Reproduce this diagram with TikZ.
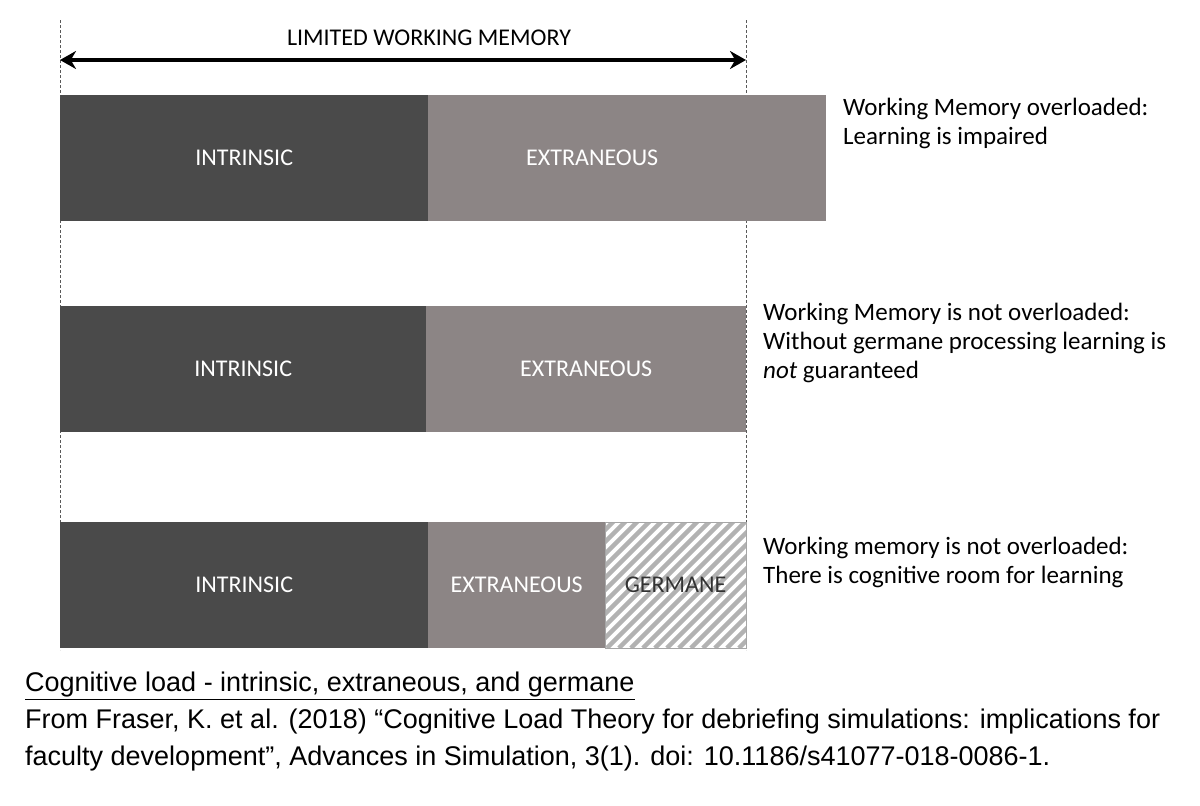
\documentclass[tikz,border=0pt]{standalone}
\usepackage{fontspec}
\setmainfont{Carlito}
\newfontfamily\capfont{Liberation Sans}
\usetikzlibrary{arrows.meta}
\definecolor{intr}{HTML}{4A4A4A}
\definecolor{extr}{HTML}{8C8585}
\begin{document}
\begin{tikzpicture}[x=1pt,y=-1pt,
  bar/.style={draw=none,minimum height=126pt,inner sep=0pt,anchor=north west,text=white,font=\fontsize{24}{28}\selectfont},
  side/.style={anchor=north west,align=left,inner sep=0pt,font=\fontsize{25}{29}\selectfont},
  captxt/.style={anchor=north west,inner sep=0pt,font=\capfont\fontsize{27}{37}\selectfont,align=left}]
\useasboundingbox (0,0) rectangle (1200,806);
\fill[white] (0,0) rectangle (1200,806);
\coordinate (dl1) at (60,20); \coordinate (dl2) at (60,650);
\coordinate (dr1) at (746,20); \coordinate (dr2) at (746,650);
\draw[densely dashed,gray!70!black,line width=0.8pt] (dl1)--(dl2);
\draw[densely dashed,gray!70!black,line width=0.8pt] (dr1)--(dr2);
\coordinate (a1) at (60,60); \coordinate (a2) at (746,60);
\draw[line width=3.5pt,{Stealth[length=16pt,width=18pt]}-{Stealth[length=16pt,width=18pt]}] (a1)--(a2);
\node[font=\fontsize{24}{28}\selectfont] (lwm) at (429,38) {LIMITED WORKING MEMORY};
% row1
\node[bar,fill=intr,minimum width=368pt] (i1) at (60,95) {INTRINSIC};
\node[bar,fill=extr,minimum width=398pt] (e1) at (428,95) {\hspace*{-70pt}EXTRANEOUS};
\node[side] (t1) at (843,98) {Working Memory overloaded:\\Learning is impaired};
% row2
\node[bar,fill=intr,minimum width=366pt] (i2) at (60,306) {INTRINSIC};
\node[bar,fill=extr,minimum width=320pt] (e2) at (426,306) {EXTRANEOUS};
\node[side] (t2) at (763,303) {Working Memory is not overloaded:\\Without germane processing learning is\\\textit{not} guaranteed};
% row3
\node[bar,fill=intr,minimum width=368pt] (i3) at (60,522) {INTRINSIC};
\node[bar,fill=extr,minimum width=177pt] (e3) at (428,522) {EXTRANEOUS};
\begin{scope}
\clip (605,522) rectangle (746,648);
\foreach \k in {0,12,...,300} {
  \draw[line width=4.5pt,gray!60] (605+\k-130,648) -- (605+\k,518);
}
\end{scope}
\draw[gray!70,line width=1pt] (605,522) rectangle (746,648);
\node[font=\fontsize{24}{28}\selectfont,text=black!80] (g3) at (675.5,585) {GERMANE};
\node[side] (t3) at (763,537) {Working memory is not overloaded:\\There is cognitive room for learning};
% caption
\node[captxt] (c1) at (25,672) {\underline{Cognitive load - intrinsic, extraneous, and germane}\\From Fraser, K. et al. (2018) “Cognitive Load Theory for debriefing simulations: implications for\\faculty development”, Advances in Simulation, 3(1). doi: 10.1186/s41077-018-0086-1.};
\end{tikzpicture}
\end{document}
